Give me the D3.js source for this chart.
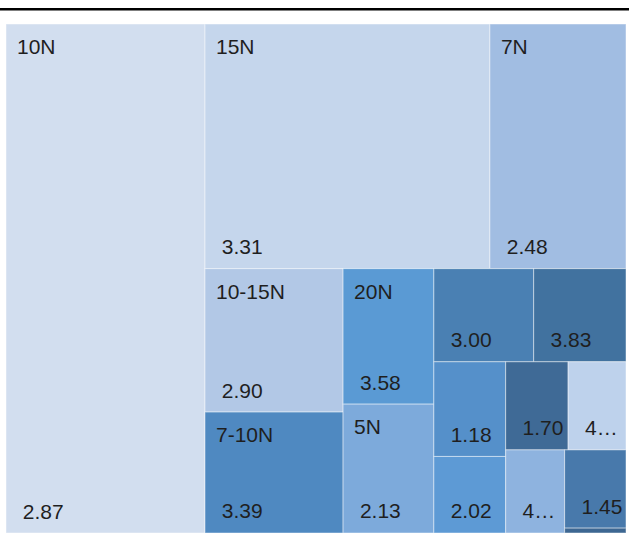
<!DOCTYPE html>
<html>
<head>
<meta charset="utf-8">
<script src="https://cdn.jsdelivr.net/npm/d3@7"></script>
<style>
  html, body { margin: 0; padding: 0; background: #fff; }
  svg { display: block; }
</style>
</head>
<body>
<svg id="chart" width="629" height="548"></svg>
<script>
// Categories (some cells carry no category name), their sizes and the reported mean values
const categories = ["10N", "15N", "7N", "10-15N", "7-10N", "20N", "5N", "", "", "", "", "", "", "", "", ""];
const sizes      = [1013, 697, 333, 198, 167, 123, 117, 93, 86, 68, 55, 55, 51, 49, 48, 3];
const values     = [2.87, 3.31, 2.48, 2.90, 3.39, 3.58, 2.13, 3.00, 3.83, 1.18, 2.02, 1.70, 4.20, 4.10, 1.45, 2.60];
const colors     = ["#d2deef", "#c5d6ec", "#a1bde2", "#b2c8e6", "#4f89c1", "#5a9ad4", "#7daadb",
                    "#4a80b3", "#41729f", "#5590ca", "#5d9ad5", "#3f6a96", "#bed2ec", "#8eb3df",
                    "#4879ab", "#3d6792"];

const W = 629, H = 548;
const frame = { left: 6, top: 24, right: 626, bottom: 533 };
const FONT = "'Liberation Sans', Arial, sans-serif";
const FS = 21;
const padL = 11, padR = 9;

const svg = d3.select("#chart");
svg.append("rect").attr("width", W).attr("height", H).attr("fill", "#fff");

// rule above the plot
svg.append("rect").attr("x", 0).attr("y", 8).attr("width", W).attr("height", 2.5).attr("fill", "#000");

const data = categories.map((name, i) => ({ name, size: sizes[i], value: values[i], color: colors[i], idx: i }));

// Lead item takes a full strip along the long side; the rest is squarified
function leadStripTile(parent, x0, y0, x1, y1) {
  const [lead, ...rest] = parent.children;
  const k = lead.value / parent.value;
  const restParent = { children: rest, value: parent.value - lead.value };
  const sq = d3.treemapSquarify.ratio(1);
  if ((x1 - x0) >= (y1 - y0)) {
    const xm = x0 + (x1 - x0) * k;
    lead.x0 = x0; lead.y0 = y0; lead.x1 = xm; lead.y1 = y1;
    sq(restParent, xm, y0, x1, y1);
  } else {
    const ym = y0 + (y1 - y0) * k;
    lead.x0 = x0; lead.y0 = y0; lead.x1 = x1; lead.y1 = ym;
    sq(restParent, x0, ym, x1, y1);
  }
}

const root = d3.hierarchy({ children: data })
  .sum(d => d.size || 0)
  .sort((a, b) => b.value - a.value);

d3.treemap()
  .tile(leadStripTile)
  .size([frame.right - frame.left, frame.bottom - frame.top])(root);

const g = svg.append("g").attr("transform", `translate(${frame.left},${frame.top})`);

const cells = g.selectAll("g.cell")
  .data(root.leaves())
  .join("g")
  .attr("class", "cell")
  .attr("transform", d => `translate(${d.x0},${d.y0})`);

cells.append("rect")
  .attr("width", d => d.x1 - d.x0)
  .attr("height", d => d.y1 - d.y0)
  .attr("fill", d => d.data.color)
  .attr("stroke", "#ffffff")
  .attr("stroke-opacity", 0.45)
  .attr("stroke-width", 1);

// text measurement helper
const probe = svg.append("text").attr("font-family", FONT).attr("font-size", FS).attr("visibility", "hidden");
function textWidth(s) { probe.text(s); return probe.node().getComputedTextLength(); }

function fitLabel(s, avail) {
  if (textWidth(s) <= avail) return s;
  let t = s;
  while (t.length > 1) {
    t = t.slice(0, -1).replace(/\.$/, "");
    if (textWidth(t + "\u2026") <= avail) return t + "\u2026";
  }
  return null;
}

const fmt = d3.format(".2f");

cells.each(function(d) {
  const w = d.x1 - d.x0, h = d.y1 - d.y0;
  const cell = d3.select(this);
  const avail = w - padL - padR;
  if (h < 30 || avail <= 0) return;

  // category name, top-left
  if (d.data.name) {
    const nm = fitLabel(d.data.name, avail);
    if (nm) {
      cell.append("text")
        .attr("x", padL).attr("y", 30.3)
        .attr("font-family", FONT).attr("font-size", FS)
        .attr("fill", "#1f1f1f")
        .text(nm);
    }
  }

  // value, bottom-left
  const v = fmt(d.data.value);
  let label = null;
  if (textWidth(" " + v) <= avail) label = " " + v;
  else if (textWidth(v) <= avail) label = v;
  else label = fitLabel(" " + v, avail) || fitLabel(v, avail);
  if (label) {
    cell.append("text")
      .attr("x", padL).attr("y", h - 14.5)
      .attr("font-family", FONT).attr("font-size", FS)
      .attr("fill", "#1f1f1f")
      .attr("xml:space", "preserve")
      .style("white-space", "pre")
      .text(label);
  }
});

probe.remove();
</script>
</body>
</html>
